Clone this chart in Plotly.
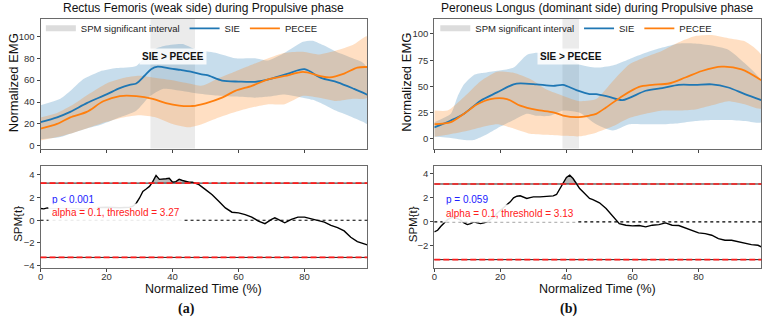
import numpy as np
import plotly.graph_objects as go

W, H = 766, 321

# ---------------- DATA ----------------
# (a) Rectus Femoris (weak side)
a_sie_t = [0, 5, 9, 14, 20, 24, 27, 29, 31.5, 33.5, 35.5, 39.5, 42.5, 45.5, 48.5, 50.5, 55, 60, 65, 70, 75, 80, 85, 90, 95, 99]
a_sie_v = [21.7, 26, 31, 39, 47, 52.7, 55.7, 57, 64, 70, 72.3, 70.5, 69.3, 67.8, 65.4, 64.5, 59.6, 58.7, 58.5, 61.5, 66, 70, 62, 58, 52, 46.7]
a_pec_t = [0, 5, 9, 14, 19, 24, 29, 34, 38, 42, 46, 50, 55, 59, 64, 69, 74, 79.5, 84.5, 87.6, 92, 96, 99]
a_pec_v = [15.7, 20, 26, 31, 40.7, 45.5, 45.5, 43, 39, 36.7, 36.4, 38.9, 44, 50.2, 54.8, 60.8, 63.8, 67.5, 64, 62.5, 66, 71.5, 72]
a_sie_band_t = [0, 6, 9, 13, 18, 23, 29, 33, 37, 43, 47, 53, 59, 65, 69, 74, 79.5, 82.5, 85.6, 89.6, 94.6, 97.7, 99]
a_sie_up = [37, 43, 50, 61, 68, 71, 73, 86, 91, 93, 88, 85, 80, 80, 78, 85, 95, 96, 92, 86, 80, 76, 71]
a_sie_lo = [6, 8, 11, 15, 19, 25, 32, 45, 52, 50, 48, 46, 45, 44, 45, 47, 44, 42, 38, 32, 26, 22, 20]
a_pec_band_t = [0, 5, 10, 15, 20, 25, 30, 35, 40, 45, 49, 54, 59, 64, 69, 74, 79.5, 84.5, 89.6, 94.6, 99]
a_pec_up = [26, 30, 38, 48, 57, 62, 64, 62, 60, 57, 55, 62, 68, 74, 80, 85, 86, 83.5, 87, 92, 100]
a_pec_lo = [5, 8, 12, 17, 22, 26, 28, 26, 20, 17, 20, 26, 31, 35, 38, 38, 45.7, 44, 41, 43, 44]
a_interval = [33.3, 46.8]
a_spm_t = [0, 1, 2, 4, 8, 12, 16, 20, 24, 27, 28, 29, 30, 31, 32, 33, 34, 35, 36, 37, 38, 39, 40, 41, 42, 43, 44, 45, 46, 47, 48,
           50, 52, 54, 56, 58, 60, 62, 64, 66, 68, 70, 71, 72, 74, 76, 78, 80, 82, 84, 86, 88, 90, 92, 94, 96, 98, 99]
a_spm_v = [1.03, 1.0, 1.09, 1.05, 1.1, 1.0, 1.1, 1.15, 1.1, 1.15, 1.24, 1.5, 1.96, 2.54, 2.75, 2.98, 3.4, 3.95, 3.6, 3.6, 3.65, 3.7,
           3.35, 3.4, 3.6, 3.5, 3.4, 3.35, 3.35, 3.27, 3.13,
           2.7, 2.25, 1.67, 1.09, 0.71, 0.65, 0.5, 0.28, -0.07, -0.3, 0.07, 0.22, 0.07, -0.22, 0.07, 0.28, 0.28, 0.13, 0.01,
           -0.16, -0.45, -0.65, -0.94, -1.5, -1.88, -2.1, -2.17]
a_thr = 3.27
a_p = "p < 0.001"

# (b) Peroneus Longus (dominant side)
b_sie_t = [0, 5, 9, 14, 19, 24, 26, 31, 36, 39, 43, 47, 49, 53, 57, 64, 69, 74, 79, 84, 89, 94, 99]
b_sie_v = [11, 17.6, 24, 36.4, 44.3, 52, 53, 52, 50.6, 51.5, 46.5, 42.7, 42.7, 40, 37, 45.9, 48.5, 51.5, 51.5, 52, 49, 42.7, 37]
b_pec_t = [0, 5, 9, 13, 17, 22, 26, 31, 36, 39, 43, 47, 49, 52, 57, 62, 66, 71, 76, 81, 87, 93, 99]
b_pec_v = [14, 16, 24, 33, 38, 38, 31.7, 27.6, 25.4, 22.3, 20.7, 22.3, 23.9, 30, 41, 49.6, 51.5, 52.8, 58.5, 64.7, 68.8, 66.3, 56]
b_sie_band_t = [0, 5, 7, 9, 12, 15, 19, 24, 28, 31, 35, 39, 44, 49, 54, 59, 64, 69, 74, 79, 84, 89, 94, 99]
b_sie_up = [16, 24, 40, 52, 61, 63, 65, 68, 80, 82, 80, 79, 71, 68, 70, 76, 82, 87, 91, 91, 89, 85, 72, 55]
b_sie_lo = [2, 1, 0, -1, -1, 3, 10, 18, 24, 22, 22, 27, 25, 14, 8, 14, 14, 14, 15, 17, 18, 18, 17, 16]
b_pec_band_t = [0, 4, 9, 14, 19, 24, 29, 34, 39, 44, 49, 54, 59, 64, 69, 74, 79, 84, 89, 94, 99]
b_pec_up = [27, 27, 40, 55, 64, 63, 57, 47, 41, 36, 38, 55, 71, 78, 84, 92, 98, 99, 96, 93, 80]
b_pec_lo = [2, 4, 7, 11, 14, 10, 5, 4, 3, 2.5, 6, 12, 20, 24, 27, 27, 28, 32, 36, 33, 29]
b_interval = [38.8, 43.8]
b_spm_t = list(range(0, 31)) + [32, 34, 36] + list(range(37, 51)) + [52, 54, 55, 56] + list(range(58, 99, 2)) + [99]
b_spm_v = [-0.84, -0.7, -0.37, -0.09, 0.18, 0.32, 0.4, 0.27, 0.13, -0.09, -0.23, -0.15, -0.01, -0.09, -0.15, -0.09, 0.0,
           0.2, 0.4, 0.7, 0.95, 1.15, 1.37, 1.65, 1.98, 2.12, 2.15, 2.06, 1.93, 2.0, 2.06,
           2.06, 2.12, 2.15,
           2.26, 2.75, 3.3, 3.67, 3.86, 3.58, 3.17, 2.75, 2.48, 2.2, 1.93, 1.84, 1.73, 1.57,
           1.1, 0.49, 0.18, -0.15,
           -0.28, -0.34, -0.31, -0.42, -0.28, -0.23, -0.09, -0.28, -0.31, -0.5, -0.7, -0.92, -0.98, -1.11, -1.39, -1.53,
           -1.53, -1.67, -1.8, -1.89, -1.94,
           -2.08]
b_thr = 3.13
b_p = "p = 0.059"

titles = ["Rectus Femoris (weak side) during Propulsive phase",
          "Peroneus Longus (dominant side) during Propulsive phase"]
x_ticks = [0, 20, 40, 60, 80]
a_emg_ticks = [0, 20, 40, 60, 80, 100]
b_emg_ticks = [0, 25, 50, 75, 100]
a_spm_ticks = [-4, -2, 0, 2, 4]
b_spm_ticks = [-2, 0, 2, 4]

# ---------------- STYLE ----------------
FONT = "Liberation Sans, Arial, sans-serif"
BLUE = "#1f77b4"
ORANGE = "#ff7f0e"
BLUE_BAND = "rgba(31,119,180,0.25)"
ORANGE_BAND = "rgba(255,127,14,0.25)"
SPAN = "#ebebeb"


def px(x):
    return x / W


def py(y):
    return 1 - y / H


def band(t, up, lo):
    return list(t) + list(t)[::-1], list(up) + list(lo)[::-1]


def cluster_poly(t, v, thr):
    tt = np.linspace(t[0], t[-1], 4000)
    vv = np.interp(tt, t, v)
    idx = np.where(vv > thr)[0]
    xs, ys = [], []
    if len(idx) == 0:
        return xs, ys
    segs = np.split(idx, np.where(np.diff(idx) > 1)[0] + 1)
    for s in segs:
        xseg, yseg = tt[s], vv[s]
        xs += list(xseg) + list(xseg[::-1]) + [None]
        ys += list(yseg) + [thr] * len(xseg) + [None]
    return xs, ys


fig = go.Figure()
shapes = []
annotations = []

panels = [
    dict(xa="x", ya="y", xb="x3", yb="y3", leg="legend",
         sie=(a_sie_t, a_sie_v), pec=(a_pec_t, a_pec_v),
         sb=(a_sie_band_t, a_sie_up, a_sie_lo), pb=(a_pec_band_t, a_pec_up, a_pec_lo),
         iv=a_interval, spm=(a_spm_t, a_spm_v), thr=a_thr, p=a_p, lab_y=81.3),
    dict(xa="x2", ya="y2", xb="x4", yb="y4", leg="legend2",
         sie=(b_sie_t, b_sie_v), pec=(b_pec_t, b_pec_v),
         sb=(b_sie_band_t, b_sie_up, b_sie_lo), pb=(b_pec_band_t, b_pec_up, b_pec_lo),
         iv=b_interval, spm=(b_spm_t, b_spm_v), thr=b_thr, p=b_p, lab_y=78.3),
]

for P in panels:
    xa, ya, xb, yb = P["xa"], P["ya"], P["xb"], P["yb"]
    fig.add_trace(go.Scatter(x=[None], y=[None], mode="none", fill="toself", fillcolor="#dcdcdc",
                             name="SPM significant interval", xaxis=xa, yaxis=ya, legend=P["leg"]))
    bx, by = band(*P["sb"])
    fig.add_trace(go.Scatter(x=bx, y=by, mode="lines", fill="toself", fillcolor=BLUE_BAND,
                             line=dict(width=0, shape="spline", smoothing=0.6), showlegend=False,
                             hoverinfo="skip", xaxis=xa, yaxis=ya))
    bx, by = band(*P["pb"])
    fig.add_trace(go.Scatter(x=bx, y=by, mode="lines", fill="toself", fillcolor=ORANGE_BAND,
                             line=dict(width=0, shape="spline", smoothing=0.6), showlegend=False,
                             hoverinfo="skip", xaxis=xa, yaxis=ya))
    fig.add_trace(go.Scatter(x=P["sie"][0], y=P["sie"][1], mode="lines", name="SIE",
                             line=dict(color=BLUE, width=1.8, shape="spline", smoothing=0.8),
                             xaxis=xa, yaxis=ya, legend=P["leg"]))
    fig.add_trace(go.Scatter(x=P["pec"][0], y=P["pec"][1], mode="lines", name="PECEE",
                             line=dict(color=ORANGE, width=1.8, shape="spline", smoothing=0.8),
                             xaxis=xa, yaxis=ya, legend=P["leg"]))
    shapes.append(dict(type="rect", xref=xa, yref=ya + " domain", x0=P["iv"][0], x1=P["iv"][1],
                       y0=0, y1=1, fillcolor=SPAN, line=dict(width=0), layer="below"))
    annotations.append(dict(x=(P["iv"][0] + P["iv"][1]) / 2, y=P["lab_y"], xref=xa, yref=ya,
                            text="<b>SIE > PECEE</b>", showarrow=False,
                            font=dict(size=10, color="#111", family=FONT),
                            bgcolor="rgba(255,255,255,0.85)", borderpad=2))

    cx, cy = cluster_poly(P["spm"][0], P["spm"][1], P["thr"])
    fig.add_trace(go.Scatter(x=cx, y=cy, mode="lines", fill="toself", fillcolor="rgba(150,150,150,0.65)",
                             line=dict(width=0), showlegend=False, hoverinfo="skip", xaxis=xb, yaxis=yb))
    fig.add_trace(go.Scatter(x=P["spm"][0], y=P["spm"][1], mode="lines", line=dict(color="black", width=1.4),
                             showlegend=False, xaxis=xb, yaxis=yb))
    shapes.append(dict(type="line", xref=xb + " domain", yref=yb, x0=0, x1=1, y0=0, y1=0,
                       line=dict(color="black", width=1.2, dash="dot")))
    for s in (1, -1):
        shapes.append(dict(type="line", xref=xb + " domain", yref=yb, x0=0, x1=1, y0=s * P["thr"], y1=s * P["thr"],
                           line=dict(color="#222", width=1)))
        shapes.append(dict(type="line", xref=xb + " domain", yref=yb, x0=0, x1=1, y0=s * P["thr"], y1=s * P["thr"],
                           line=dict(color="#ff1a1a", width=1.6, dash="6px,3px")))
    annotations.append(dict(x=2.2, y=1.86, xref=xb, yref=yb, xanchor="left", yanchor="middle",
                            text=P["p"], showarrow=False, font=dict(size=10, color="#2020ff", family=FONT),
                            bgcolor="rgba(255,255,255,0.9)", borderpad=3))
    annotations.append(dict(x=2.2, y=0.66, xref=xb, yref=yb, xanchor="left", yanchor="middle",
                            text="alpha = 0.1, threshold = %.2f" % P["thr"], showarrow=False,
                            font=dict(size=10, color="#ff2020", family=FONT),
                            bgcolor="rgba(255,255,255,0.9)", borderpad=3))


def lab(text, x, y, size, angle=0, color="#111", family=FONT):
    annotations.append(dict(text=text, x=px(x), y=py(y), xref="paper", yref="paper", showarrow=False,
                            xanchor="center", yanchor="middle", textangle=angle,
                            font=dict(size=size, color=color, family=family)))


lab(titles[0], 201.7, 8, 12)
lab(titles[1], 597, 8, 12)
lab("Normalized EMG", 10, 83, 13, -90)
lab("Normalized EMG", 405, 83, 13, -90)
lab("SPM{t}", 15, 226, 11.5, -90)
lab("SPM{t}", 412, 226, 11.5, -90)
lab("Normalized Time (%)", 201.7, 291.5, 12.5)
lab("Normalized Time (%)", 597, 291.5, 12.5)
lab("<b>(a)</b>", 184, 312, 14, family="Liberation Serif, Times New Roman, serif")
lab("<b>(b)</b>", 568, 312, 14, family="Liberation Serif, Times New Roman, serif")

left_dom = [px(37.7), px(365.7)]
right_dom = [px(433), px(761.3)]
top_dom = [py(150), py(19)]
bot_dom = [py(270.5), py(167.3)]

ax_common = dict(showline=True, mirror=True, linecolor="#6a6a6a", linewidth=1.1, showgrid=False, zeroline=False,
                 ticks="outside", ticklen=3, tickwidth=1, tickcolor="#444",
                 tickfont=dict(size=9.5, color="#333", family=FONT))


def xax(dom, anchor, labels):
    d = dict(ax_common)
    d.update(domain=dom, anchor=anchor, range=[0, 99], tickvals=x_ticks, showticklabels=labels,
             ticklabelstandoff=-3)
    return d


def yax(dom, anchor, rng, ticks):
    d = dict(ax_common)
    d.update(domain=dom, anchor=anchor, range=rng, tickvals=ticks)
    return d


fig.update_layout(
    width=W, height=H,
    margin=dict(l=0, r=0, t=0, b=0),
    paper_bgcolor="white", plot_bgcolor="white",
    font=dict(family=FONT, color="#222"),
    xaxis=xax(left_dom, "y", False),
    yaxis=yax(top_dom, "x", [-2.5, 116], a_emg_ticks),
    xaxis2=xax(right_dom, "y2", False),
    yaxis2=yax(top_dom, "x2", [-9.2, 114.4], b_emg_ticks),
    xaxis3=xax(left_dom, "y3", True),
    yaxis3=yax(bot_dom, "x3", [-4.2, 4.8], a_spm_ticks),
    xaxis4=xax(right_dom, "y4", True),
    yaxis4=yax(bot_dom, "x4", [-3.82, 4.64], b_spm_ticks),
    legend=dict(x=px(38), y=py(14), xanchor="left", yanchor="top", orientation="h",
                font=dict(size=9.5, color="#222", family=FONT), bgcolor="rgba(0,0,0,0)"),
    legend2=dict(x=px(434), y=py(14), xanchor="left", yanchor="top", orientation="h",
                 font=dict(size=9.5, color="#222", family=FONT), bgcolor="rgba(0,0,0,0)"),
    shapes=shapes,
    annotations=annotations,
    showlegend=True,
)

fig.write_html("out.html")
